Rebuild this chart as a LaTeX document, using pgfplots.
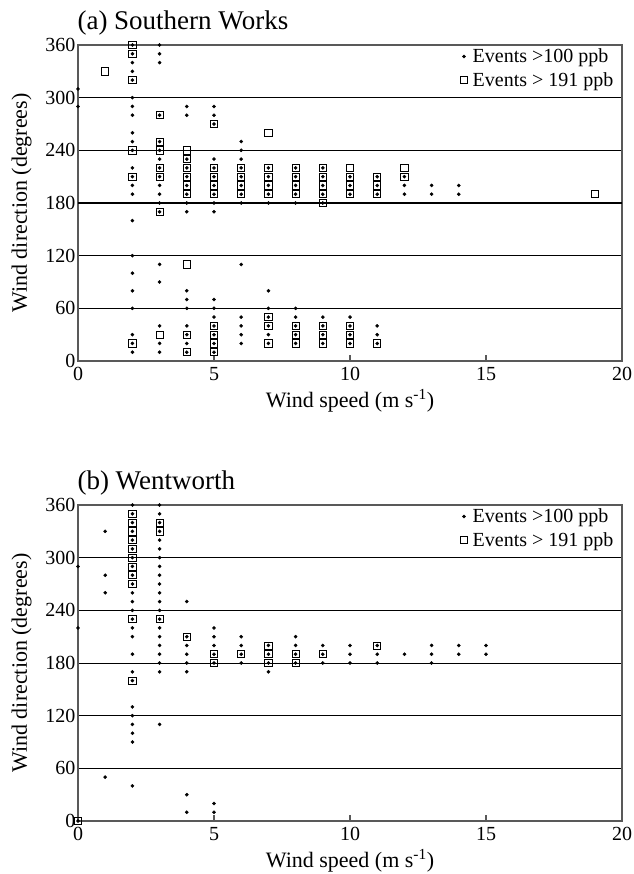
\documentclass[border=0pt]{standalone}
\usepackage{fontspec}
\setmainfont{Liberation Serif}
\usepackage{pgfplots}
\pgfplotsset{compat=1.18}

\pgfplotsset{
  windaxis/.style={
    scale only axis, width=544pt, height=316pt,
    xmin=0, xmax=20, ymin=0, ymax=360,
    xtick={0,5,10,15,20}, ytick={0,60,120,180,240,300,360},
    ymajorgrids, grid style={black, line width=0.8pt},
    axis line style={black!65, line width=1.1pt},
    xtick pos=left, ytick pos=left,
    xtick align=inside, major tick length=6pt,
    xtick style={black!65, line width=1.1pt},
    ytick style={draw=none},
    /pgf/number format/assume math mode=true,
    tick label style={font=\fontsize{20}{24}\selectfont},
    xticklabel style={yshift=-3pt},
    yticklabel style={xshift=1pt},
    xlabel={Wind speed (m s\textsuperscript{-1})},
    ylabel={Wind direction (degrees)},
    every axis x label/.style={at={(axis description cs:0.5,-0.147)}, anchor=base, font=\fontsize{22}{26}\selectfont},
    every axis y label/.style={at={(axis description cs:-0.094,0.5)}, anchor=base, rotate=90, font=\fontsize{22}{26}\selectfont},
    every axis title/.style={at={(axis description cs:0,1)}, anchor=base west, xshift=-4pt, yshift=15.5pt, font=\fontsize{27}{31}\selectfont},
    legend style={at={(axis description cs:0.99,0.998)}, anchor=north east, draw=none, fill=none,
      font=\fontsize{20}{24}\selectfont, row sep=4pt, column sep=3pt, inner sep=1pt},
    legend cell align=left,
    clip=false,
  },
  dotst/.style={only marks, mark=*, mark size=1.6pt, black},
  sqst/.style={only marks, mark=square, mark size=3.6pt, black, mark options={line width=0.7pt}},
}

\begin{document}
\begin{tikzpicture}
\path[use as bounding box] (0,0) rectangle (633pt,-874pt);

% ---------------- (a) Southern Works ----------------
\begin{axis}[windaxis, at={(78pt,-361pt)}, anchor=south west,
  title={(a) Southern Works},
  extra y ticks={180}, extra y tick labels={},
  extra y tick style={grid style={black, line width=1.8pt}}]
\addplot[dotst] coordinates {
(0,310)(0,290)
(2,360)(2,350)(2,340)(2,330)(2,320)(2,300)(2,290)(2,280)(2,260)(2,250)(2,240)(2,220)(2,210)(2,200)(2,190)(2,160)(2,120)(2,100)(2,80)(2,60)(2,30)(2,20)(2,10)
(3,360)(3,350)(3,340)(3,280)(3,250)(3,240)(3,230)(3,220)(3,210)(3,200)(3,190)(3,180)(3,170)(3,110)(3,90)(3,40)(3,20)(3,10)
(4,290)(4,280)(4,230)(4,220)(4,210)(4,200)(4,190)(4,180)(4,170)(4,80)(4,70)(4,60)(4,40)(4,30)(4,20)(4,10)
(5,290)(5,280)(5,270)(5,230)(5,220)(5,210)(5,200)(5,190)(5,180)(5,170)(5,70)(5,60)(5,50)(5,40)(5,30)(5,20)(5,10)
(6,250)(6,240)(6,230)(6,220)(6,210)(6,200)(6,190)(6,180)(6,110)(6,50)(6,40)(6,30)(6,20)
(7,220)(7,210)(7,200)(7,190)(7,180)(7,80)(7,60)(7,50)(7,40)(7,30)(7,20)
(8,220)(8,210)(8,200)(8,190)(8,180)(8,60)(8,50)(8,40)(8,30)(8,20)
(9,220)(9,210)(9,200)(9,190)(9,180)(9,50)(9,40)(9,30)(9,20)
(10,210)(10,200)(10,190)(10,50)(10,40)(10,30)(10,20)
(11,210)(11,200)(11,190)(11,40)(11,30)(11,20)
(12,210)(12,200)(12,190)
(13,200)(13,190)
(14,200)(14,190)
};
\addlegendentry{Events >100 ppb}
\addplot[sqst] coordinates {
(1,330)
(2,360)(2,350)(2,320)(2,240)(2,210)(2,20)
(3,280)(3,250)(3,240)(3,220)(3,210)(3,170)(3,30)
(4,240)(4,230)(4,220)(4,210)(4,200)(4,190)(4,110)(4,30)(4,10)
(5,270)(5,220)(5,210)(5,200)(5,190)(5,40)(5,30)(5,20)(5,10)
(6,220)(6,210)(6,200)(6,190)
(7,260)(7,220)(7,210)(7,200)(7,190)(7,50)(7,40)(7,20)
(8,220)(8,210)(8,200)(8,190)(8,40)(8,30)(8,20)
(9,220)(9,210)(9,200)(9,190)(9,180)(9,40)(9,30)(9,20)
(10,220)(10,210)(10,200)(10,190)(10,40)(10,30)(10,20)
(11,210)(11,200)(11,190)(11,20)
(12,220)(12,210)
(19,190)
};
\addlegendentry{Events > 191 ppb}
\end{axis}

% ---------------- (b) Wentworth ----------------
\begin{axis}[windaxis, at={(78pt,-821pt)}, anchor=south west,
  title={(b) Wentworth}]
\addplot[dotst] coordinates {
(0,290)(0,220)(0,0)
(1,330)(1,280)(1,260)(1,50)
(2,360)(2,350)(2,340)(2,330)(2,320)(2,310)(2,300)(2,290)(2,280)(2,270)(2,260)(2,250)(2,240)(2,230)(2,220)(2,210)(2,190)(2,170)(2,160)(2,130)(2,120)(2,110)(2,100)(2,90)(2,40)
(3,360)(3,350)(3,340)(3,330)(3,320)(3,310)(3,300)(3,290)(3,280)(3,270)(3,260)(3,250)(3,240)(3,230)(3,220)(3,210)(3,200)(3,190)(3,180)(3,170)(3,110)
(4,250)(4,210)(4,200)(4,190)(4,180)(4,170)(4,30)(4,10)
(5,220)(5,210)(5,200)(5,190)(5,180)(5,20)(5,10)
(6,210)(6,200)(6,190)(6,180)
(7,200)(7,190)(7,180)(7,170)
(8,210)(8,200)(8,190)(8,180)
(9,200)(9,190)(9,180)
(10,200)(10,190)(10,180)
(11,200)(11,190)(11,180)
(12,190)
(13,200)(13,190)(13,180)
(14,200)(14,190)
(15,200)(15,190)
};
\addlegendentry{Events >100 ppb}
\addplot[sqst] coordinates {
(0,0)
(2,350)(2,340)(2,330)(2,320)(2,310)(2,300)(2,290)(2,280)(2,270)(2,230)(2,160)
(3,340)(3,330)(3,230)
(4,210)
(5,190)(5,180)
(6,190)
(7,200)(7,190)(7,180)
(8,190)(8,180)
(9,190)
(11,200)
};
\addlegendentry{Events > 191 ppb}
\end{axis}
\end{tikzpicture}
\end{document}
